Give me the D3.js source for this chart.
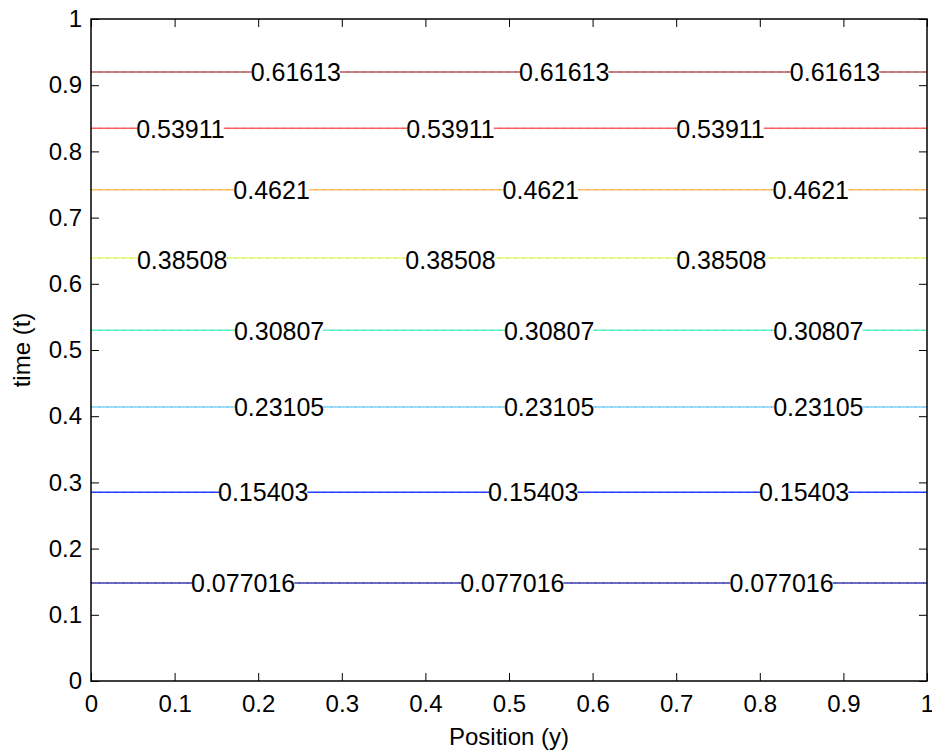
<!DOCTYPE html>
<html>
<head>
<title>Contour levels</title>
<script src="https://d3js.org/d3.v7.min.js" charset="utf-8"></script>
<style>
  body { margin: 0; background: white; font-family: "Liberation Sans", Arial, sans-serif; }
  text { font-family: "Liberation Sans", Arial, sans-serif; }
</style>
</head>
<body>
<script>
// contour levels (label text), their t position, colour, and label x positions
var levels    = ["0.077016", "0.15403", "0.23105", "0.30807", "0.38508", "0.4621", "0.53911", "0.61613"];
var levelT    = [0.148, 0.285, 0.414, 0.530, 0.639, 0.742, 0.835, 0.920];
var levelCol  = ["#3a3ab0", "#1f3cff", "#7fd2ff", "#5af5c8", "#e2ff70", "#ffbf60", "#ff6464", "#b45a5a"];
var labelX    = [[0.182, 0.504, 0.826], [0.206, 0.529, 0.853], [0.225, 0.548, 0.870],
                 [0.225, 0.548, 0.870], [0.109, 0.430, 0.754], [0.216, 0.538, 0.861],
                 [0.107, 0.430, 0.753], [0.245, 0.566, 0.890]];
var labelDy   = [2, 2, 2, 3, 4, 3, 3, 2];
var ticks     = [0, 0.1, 0.2, 0.3, 0.4, 0.5, 0.6, 0.7, 0.8, 0.9, 1];

var width = 932, height = 753;
var pLeft = 91, pRight = 927, pTop = 19, pBottom = 681;

var svg = d3.select("body").append("svg")
  .attr("width", width)
  .attr("height", height);

var x = d3.scaleLinear().domain([0, 1]).range([pLeft, pRight]);
var y = d3.scaleLinear().domain([0, 1]).range([pBottom, pTop]);

// contour lines
var g = svg.append("g");
levels.forEach(function(lv, i) {
  g.append("line")
    .attr("x1", x(0)).attr("x2", x(1))
    .attr("y1", y(levelT[i])).attr("y2", y(levelT[i]))
    .attr("stroke", levelCol[i])
    .attr("stroke-width", 1.5);
  g.append("line")
    .attr("x1", x(0)).attr("x2", x(1))
    .attr("y1", y(levelT[i])).attr("y2", y(levelT[i]))
    .attr("stroke", d3.color(levelCol[i]).darker(0.8))
    .attr("stroke-width", 1)
    .attr("stroke-dasharray", "1,7");
});

// labels with white boxes breaking the lines
levels.forEach(function(lv, i) {
  labelX[i].forEach(function(lx) {
    var t = g.append("text")
      .attr("x", x(lx))
      .attr("y", y(levelT[i]) + labelDy[i])
      .attr("text-anchor", "middle")
      .attr("dominant-baseline", "middle")
      .attr("font-size", 25)
      .attr("fill", "#000")
      .text(lv);
    var bb = t.node().getBBox();
    g.insert("rect", function() { return t.node(); })
      .attr("x", bb.x + 1).attr("y", y(levelT[i]) - 3)
      .attr("width", bb.width - 2).attr("height", 6)
      .attr("fill", "white");
  });
});

// axes
var xAxis = d3.axisBottom(x).tickValues(ticks).tickSizeInner(-8).tickSizeOuter(0)
  .tickPadding(14).tickFormat(d3.format("~g"));
var yAxis = d3.axisLeft(y).tickValues(ticks).tickSizeInner(-8).tickSizeOuter(0)
  .tickPadding(9).tickFormat(d3.format("~g"));

var gx = svg.append("g").attr("transform", "translate(0," + pBottom + ")").call(xAxis);
var gy = svg.append("g").attr("transform", "translate(" + pLeft + ",0)").call(yAxis);
svg.append("g").attr("transform", "translate(0," + pTop + ")")
  .call(d3.axisTop(x).tickValues(ticks).tickSizeInner(-8).tickSizeOuter(0).tickFormat(""));
svg.append("g").attr("transform", "translate(" + pRight + ",0)")
  .call(d3.axisRight(y).tickValues(ticks).tickSizeInner(-8).tickSizeOuter(0).tickFormat(""));

svg.selectAll(".domain").remove();
svg.selectAll(".tick line").attr("stroke", "#000").attr("stroke-width", 1);
gx.selectAll("text").attr("font-size", 24).attr("fill", "#000");
gy.selectAll("text").attr("font-size", 24).attr("fill", "#000");

svg.append("rect")
  .attr("x", pLeft).attr("y", pTop)
  .attr("width", pRight - pLeft).attr("height", pBottom - pTop)
  .attr("fill", "none")
  .attr("stroke", "#000")
  .attr("stroke-width", 1.5);

svg.append("text")
  .attr("x", (pLeft + pRight) / 2)
  .attr("y", 745)
  .attr("text-anchor", "middle")
  .attr("font-size", 24)
  .text("Position (y)");

svg.append("text")
  .attr("transform", "translate(30," + ((pTop + pBottom) / 2) + ") rotate(-90)")
  .attr("text-anchor", "middle")
  .attr("font-size", 24)
  .text("time (t)");
</script>
</body>
</html>
